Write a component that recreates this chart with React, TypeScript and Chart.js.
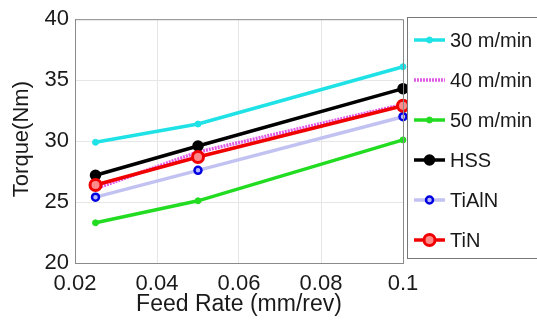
import React, { useEffect, useRef } from "react";
import { Chart, registerables } from "chart.js";

Chart.register(...registerables);

const feedRates = [0.025, 0.05, 0.1];
const seriesNames = ["30 m/min", "40 m/min", "50 m/min", "HSS", "TiAlN", "TiN"];
const torque30 = [29.9, 31.4, 36.1];
const torque40 = [26.1, 29.1, 33.0];
const torque50 = [23.3, 25.1, 30.1];
const torqueHSS = [27.2, 29.6, 34.3];
const torqueTiAlN = [25.4, 27.6, 32.0];
const torqueTiN = [26.4, 28.7, 32.9];
const xTicks = [0.02, 0.04, 0.06, 0.08, 0.1];
const yTicks = [20, 25, 30, 35, 40];
const xTitle = "Feed Rate (mm/rev)";
const yTitle = "Torque(Nm)";

const FONT = "'Liberation Sans', Arial, Helvetica, sans-serif";

type Style = {
  line: string;
  width: number;
  dash: number[];
  radius: number;
  pBorder: string;
  pBg: string;
  pBorderWidth: number;
  order: number;
};

const styles: Style[] = [
  { line: "#1fe2e6", width: 3.5, dash: [], radius: 3, pBorder: "#1fe2e6", pBg: "#1fe2e6", pBorderWidth: 1, order: 4 },
  { line: "#e05ae6", width: 3.5, dash: [2, 1], radius: 0, pBorder: "#e05ae6", pBg: "#e05ae6", pBorderWidth: 1, order: 6 },
  { line: "#22dc22", width: 3.5, dash: [], radius: 3, pBorder: "#22dc22", pBg: "#22dc22", pBorderWidth: 1, order: 5 },
  { line: "#000000", width: 3.5, dash: [], radius: 4.5, pBorder: "#000000", pBg: "#000000", pBorderWidth: 2.5, order: 2 },
  { line: "#c2c2f2", width: 3.5, dash: [], radius: 3.5, pBorder: "#0000e0", pBg: "#b8b8ff", pBorderWidth: 2.5, order: 3 },
  { line: "#f00000", width: 3.5, dash: [], radius: 5.5, pBorder: "#f00000", pBg: "#ff8a8a", pBorderWidth: 3, order: 1 },
];

const seriesValues = [torque30, torque40, torque50, torqueHSS, torqueTiAlN, torqueTiN];

const fmt = (v: number) => String(Number(v.toFixed(3)));

const overlayPlugin = {
  id: "overlay",
  afterDraw(chart: any) {
    const ctx = chart.ctx as CanvasRenderingContext2D;
    const a = chart.chartArea;
    ctx.save();
    // top & right frame
    ctx.strokeStyle = "#8a8a8a";
    ctx.lineWidth = 1;
    ctx.beginPath();
    ctx.moveTo(a.left, a.top + 0.5);
    ctx.lineTo(a.right + 0.5, a.top + 0.5);
    ctx.lineTo(a.right + 0.5, a.bottom);
    ctx.stroke();

    // axis titles
    ctx.fillStyle = "#1a1a1a";
    ctx.font = `23px ${FONT}`;
    ctx.textAlign = "center";
    ctx.textBaseline = "middle";
    ctx.fillText(xTitle, (a.left + a.right) / 2, 305);
    ctx.save();
    ctx.font = `22px ${FONT}`;
    ctx.translate(22, (a.top + a.bottom) / 2 - 2);
    ctx.rotate(-Math.PI / 2);
    ctx.fillText(yTitle, 0, 0);
    ctx.restore();

    // legend
    const lx = 407.5;
    const ly = 17.5;
    ctx.fillStyle = "#ffffff";
    ctx.fillRect(lx, ly, 160, 241);
    ctx.strokeStyle = "#777777";
    ctx.strokeRect(lx, ly, 160, 241);
    seriesNames.forEach((name, i) => {
      const s = styles[i];
      const y = 40 + i * 40;
      ctx.save();
      ctx.strokeStyle = s.line;
      ctx.lineWidth = s.width;
      ctx.setLineDash(s.dash);
      ctx.beginPath();
      ctx.moveTo(414, y);
      ctx.lineTo(445, y);
      ctx.stroke();
      ctx.setLineDash([]);
      if (s.radius > 0) {
        ctx.beginPath();
        ctx.arc(429.5, y, s.radius, 0, Math.PI * 2);
        ctx.fillStyle = s.pBg;
        ctx.fill();
        ctx.lineWidth = s.pBorderWidth;
        ctx.strokeStyle = s.pBorder;
        ctx.stroke();
      }
      ctx.restore();
      ctx.fillStyle = "#1a1a1a";
      ctx.font = `20px ${FONT}`;
      ctx.textAlign = "left";
      ctx.textBaseline = "middle";
      ctx.fillText(name, 450, y + 1);
    });
    ctx.restore();
  },
};

export default function App() {
  const ref = useRef<HTMLCanvasElement | null>(null);

  useEffect(() => {
    if (!ref.current) return;
    const datasets = seriesNames.map((name, i) => {
      const s = styles[i];
      return {
        label: name,
        data: feedRates.map((x, j) => ({ x, y: seriesValues[i][j] })),
        borderColor: s.line,
        backgroundColor: s.line,
        borderWidth: s.width,
        borderDash: s.dash,
        pointRadius: s.radius,
        pointBorderColor: s.pBorder,
        pointBackgroundColor: s.pBg,
        pointBorderWidth: s.pBorderWidth,
        order: s.order,
        clip: false as any,
        tension: 0,
      };
    });
    const chart = new Chart(ref.current, {
      type: "line",
      data: { datasets },
      plugins: [overlayPlugin],
      options: {
        animation: false,
        responsive: true,
        maintainAspectRatio: false,
        layout: { padding: { top: 15, right: 134, left: 0, bottom: 0 } },
        plugins: { legend: { display: false }, tooltip: { enabled: false } },
        scales: {
          x: {
            type: "linear",
            min: xTicks[0],
            max: xTicks[xTicks.length - 1],
            afterBuildTicks: (s: any) => {
              s.ticks = xTicks.map((v) => ({ value: v }));
            },
            afterFit: (s: any) => {
              s.height = 61;
            },
            ticks: {
              padding: 8,
              color: "#1a1a1a",
              font: { family: FONT, size: 22 },
              callback: (v: any) => fmt(Number(v)),
              maxRotation: 0,
              autoSkip: false,
            },
            grid: { color: "#e6e6e6", lineWidth: 1, drawTicks: false },
            border: { display: true, color: "#8a8a8a", width: 1 },
          },
          y: {
            type: "linear",
            min: yTicks[0],
            max: yTicks[yTicks.length - 1],
            afterBuildTicks: (s: any) => {
              s.ticks = yTicks.map((v) => ({ value: v }));
            },
            afterFit: (s: any) => {
              s.width = 75;
            },
            ticks: {
              padding: 6,
              color: "#1a1a1a",
              font: { family: FONT, size: 22 },
              callback: (v: any) => fmt(Number(v)),
            },
            grid: { color: "#e6e6e6", lineWidth: 1, drawTicks: false },
            border: { display: true, color: "#8a8a8a", width: 1 },
          },
        },
      },
    });
    return () => chart.destroy();
  }, []);

  return (
    <div style={{ position: "fixed", left: 0, top: 0, width: 537, height: 324, background: "#fff" }}>
      <canvas ref={ref} />
    </div>
  );
}
